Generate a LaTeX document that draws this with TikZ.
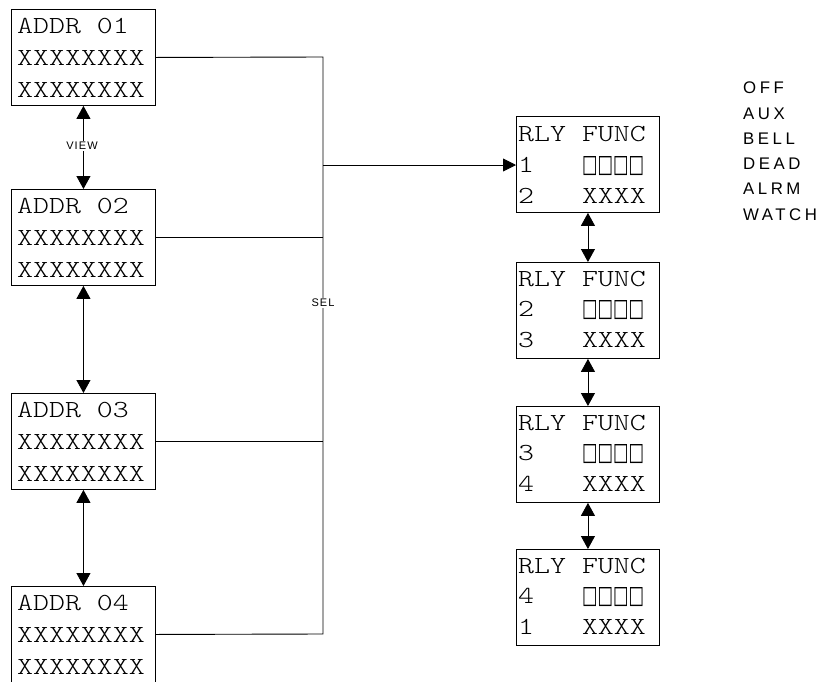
\documentclass[tikz,border=0pt]{standalone}
\usepackage{fontspec}
\usepackage{graphicx}
\usetikzlibrary{arrows.meta}
\newfontfamily\listfont[LetterSpace=21]{Liberation Sans}
\newfontfamily\smallfont[LetterSpace=10]{Liberation Sans}
\newfontfamily\symfont{DejaVu Sans}
\newfontfamily\courfont{lmmonolt10-regular}[Extension=.otf]
\newcommand{\cw}[1]{\scalebox{1.24}[1]{\fontsize{24.5}{24.5}\selectfont\courfont #1}}
\newcommand{\sq}{\resizebox{62pt}{16pt}{\symfont □□□□}}
\begin{document}
\begin{tikzpicture}[x=1pt,y=-1pt,
  ink/.style={black, line width=0.9pt},
  lbox/.style={draw, ink, anchor=north west, minimum width=144pt, minimum height=96pt, inner sep=0pt},
  rbox/.style={draw, ink, anchor=north west, minimum width=143pt, minimum height=96pt, inner sep=0pt},
  txt/.style={anchor=base west, inner sep=0pt},
  lst/.style={anchor=base west, inner sep=0pt, font=\fontsize{16.8}{16.8}\selectfont\listfont},
  lab/.style={fill=white, inner sep=1.5pt, font=\fontsize{11}{11}\selectfont\smallfont},
  arr/.style={ink, -{Triangle[length=13pt,width=13pt]}},
  dbl/.style={ink, {Triangle[length=13pt,width=14pt]}-{Triangle[length=13pt,width=14pt]}}
]
\clip (0,0) rectangle (823,681);
\fill[white] (0,0) rectangle (823,681);

% left boxes
\node[lbox] (L1) at (11,9) {};
\node[lbox] (L2) at (11,189) {};
\node[lbox] (L3) at (11,393) {};
\node[lbox] (L4) at (11,586) {};

\node[txt] (L1a) at (17,33) {\cw{ADDR 01}};
\node[txt] (L1b) at (17,65) {\cw{XXXXXXXX}};
\node[txt] (L1c) at (17,97) {\cw{XXXXXXXX}};
\node[txt] (L2a) at (17,213) {\cw{ADDR 02}};
\node[txt] (L2b) at (17,245) {\cw{XXXXXXXX}};
\node[txt] (L2c) at (17,277) {\cw{XXXXXXXX}};
\node[txt] (L3a) at (17,417) {\cw{ADDR 03}};
\node[txt] (L3b) at (17,449) {\cw{XXXXXXXX}};
\node[txt] (L3c) at (17,481) {\cw{XXXXXXXX}};
\node[txt] (L4a) at (17,610) {\cw{ADDR 04}};
\node[txt] (L4b) at (17,642) {\cw{XXXXXXXX}};
\node[txt] (L4c) at (17,674) {\cw{XXXXXXXX}};

% right boxes
\node[rbox] (R1) at (516,116) {};
\node[rbox] (R2) at (516,262) {};
\node[rbox] (R3) at (516,406) {};
\node[rbox] (R4) at (516,549) {};

\node[txt] (R1a) at (518,141) {\cw{RLY FUNC}};
\node[txt] (R1b) at (518,172) {\cw{1}};
\node[txt] (R1s) at (582,172) {\sq};
\node[txt] (R1c) at (518,203) {\cw{2\ \ \ XXXX}};
\node[txt] (R2a) at (518,286) {\cw{RLY FUNC}};
\node[txt] (R2b) at (518,316) {\cw{2}};
\node[txt] (R2s) at (582,316) {\sq};
\node[txt] (R2c) at (518,347) {\cw{3\ \ \ XXXX}};
\node[txt] (R3a) at (518,430) {\cw{RLY FUNC}};
\node[txt] (R3b) at (518,460) {\cw{3}};
\node[txt] (R3s) at (582,460) {\sq};
\node[txt] (R3c) at (518,491) {\cw{4\ \ \ XXXX}};
\node[txt] (R4a) at (518,573) {\cw{RLY FUNC}};
\node[txt] (R4b) at (518,603) {\cw{4}};
\node[txt] (R4s) at (582,603) {\sq};
\node[txt] (R4c) at (518,634) {\cw{1\ \ \ XXXX}};

% function list
\node[lst] (f1) at (743,93.7) {OFF};
\node[lst] (f2) at (743,119) {AUX};
\node[lst] (f3) at (743,144.3) {BELL};
\node[lst] (f4) at (743,169.6) {DEAD};
\node[lst] (f5) at (743,194.9) {ALRM};
\node[lst] (f6) at (743,220.2) {WATCH};

% bus
\coordinate (busT) at (323,57);
\coordinate (busB) at (323,634);
\coordinate (tap) at (323,165);
\draw[ink] (L1.east) -- (busT) -- (busB) -- (L4.east);
\draw[ink] (L2.east) -- (L2.east -| busT);
\draw[ink] (L3.east) -- (L3.east -| busT);
\draw[arr] (tap) -- (tap -| R1.west);
\node[lab] (sel) at (323,303) {SEL};

% left arrows
\draw[dbl] (L1.south) -- (L2.north);
\draw[dbl] (L2.south) -- (L3.north);
\draw[dbl] (L3.south) -- (L4.north);
\node[lab] (view) at (82,146) {VIEW};

% right arrows
\draw[dbl] (R1.south) -- (R2.north);
\draw[dbl] (R2.south) -- (R3.north);
\draw[dbl] (R3.south) -- (R4.north);
\end{tikzpicture}
\end{document}
